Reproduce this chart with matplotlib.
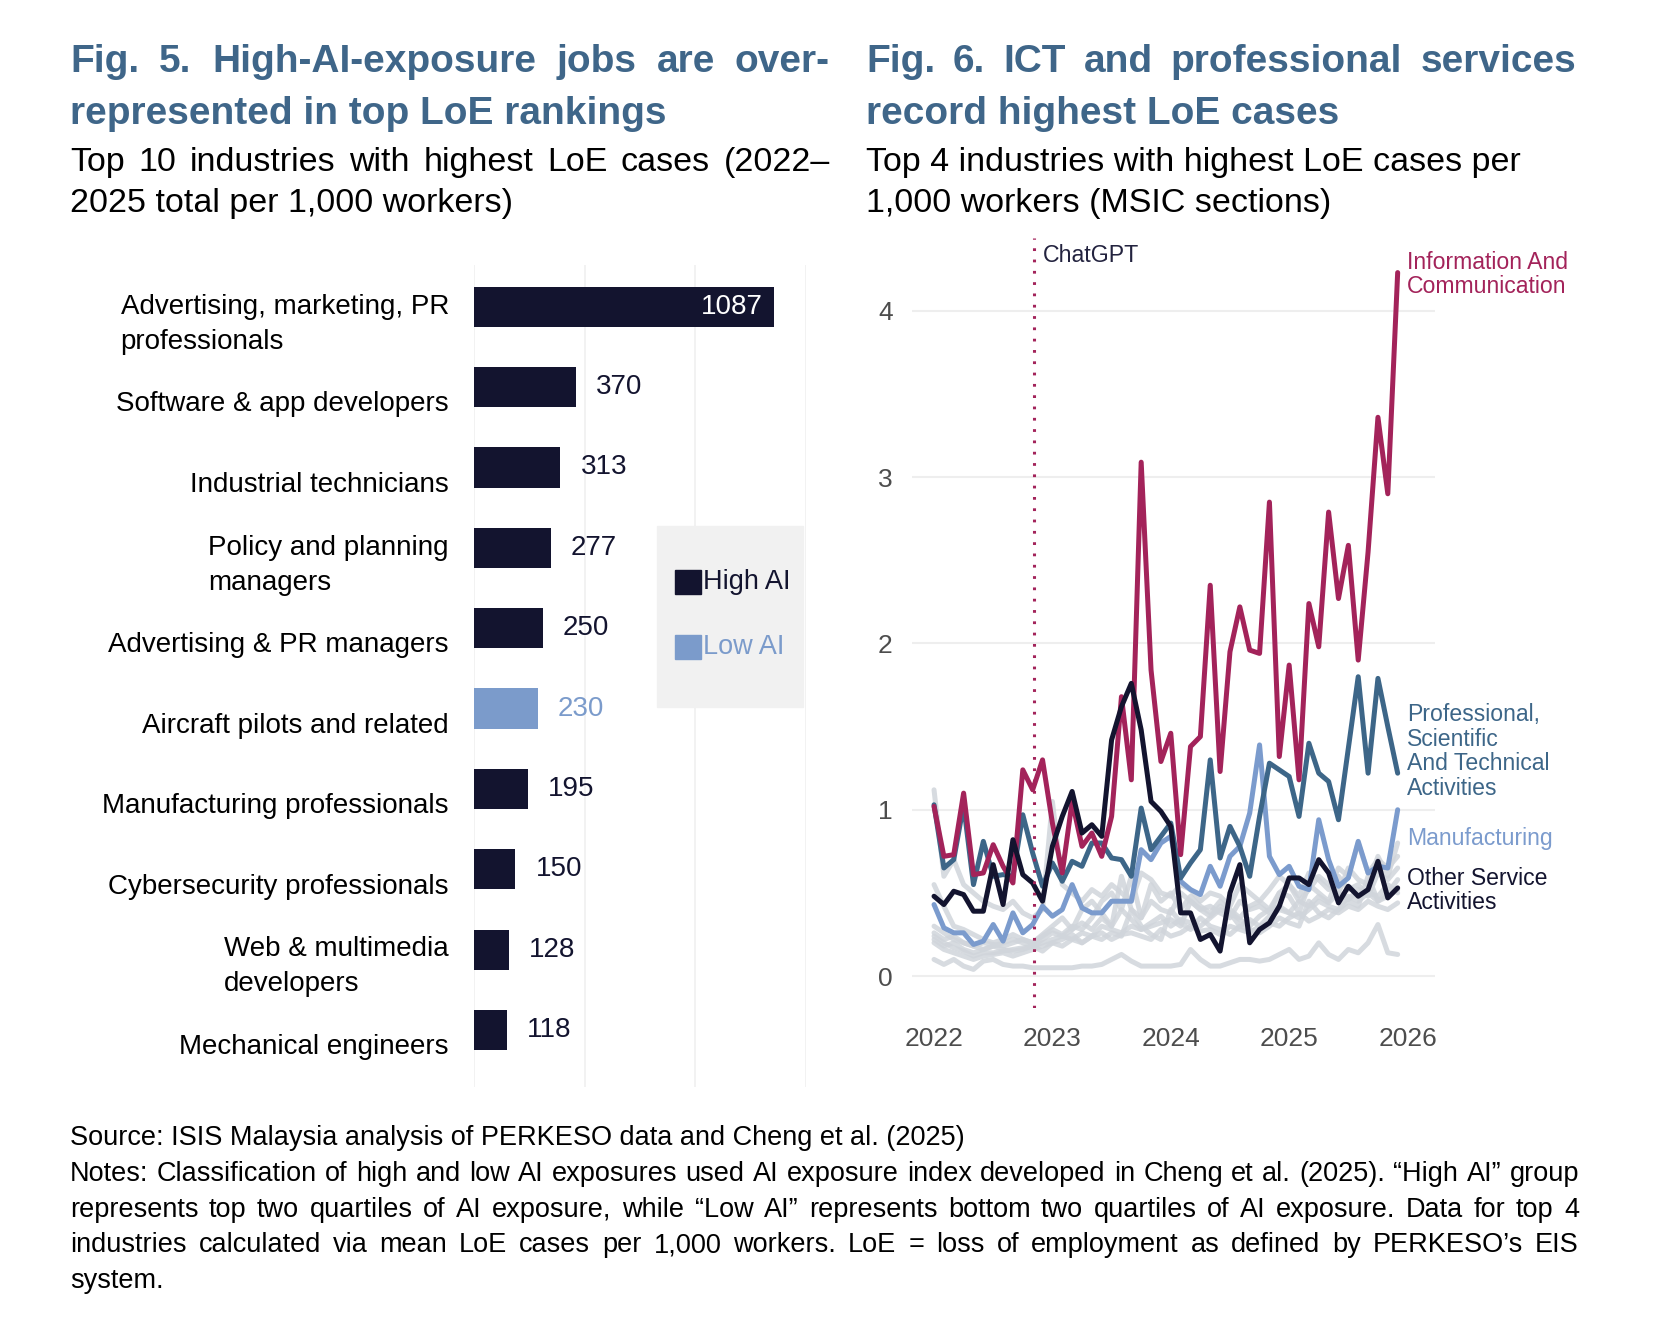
import numpy as np
import matplotlib
matplotlib.use("Agg")
import matplotlib.pyplot as plt

W, H = 1658, 1327
SANS = ["Liberation Sans", "DejaVu Sans"]
plt.rcParams["font.family"] = SANS

# ---- Fig. 5 data: top 10 occupations, LoE cases 2022-2025 per 1,000 workers
occupations = [
    "Advertising, marketing, PR\nprofessionals",
    "Software & app developers",
    "Industrial technicians",
    "Policy and planning\nmanagers",
    "Advertising & PR managers",
    "Aircraft pilots and related",
    "Manufacturing professionals",
    "Cybersecurity professionals",
    "Web & multimedia\ndevelopers",
    "Mechanical engineers",
]
loe_total = [1087, 370, 313, 277, 250, 230, 195, 150, 128, 118]
ai_group = ["High", "High", "High", "High", "High", "Low", "High", "High", "High", "High"]

# ---- Fig. 6 data: monthly LoE cases per 1,000 workers, Jan 2022 - Dec 2025
months = 2022 + np.arange(48) / 12
ict = [1.02, 0.72, 0.73, 1.10, 0.61, 0.62, 0.79, 0.66, 0.56, 1.24, 1.12, 1.30,
       0.92, 0.62, 1.05, 0.78, 0.86, 0.72, 0.96, 1.68, 1.18, 3.09, 1.84, 1.29,
       1.46, 0.73, 1.38, 1.44, 2.35, 1.23, 1.95, 2.22, 1.96, 1.94, 2.85, 1.32,
       1.87, 1.18, 2.24, 1.98, 2.79, 2.27, 2.59, 1.90, 2.55, 3.36, 2.90, 4.23]
professional = [1.03, 0.65, 0.70, 1.03, 0.55, 0.81, 0.60, 0.61, 0.60, 0.97, 0.74, 0.54,
                0.68, 0.57, 0.69, 0.66, 0.80, 0.80, 0.71, 0.70, 0.60, 1.01, 0.76, 0.84,
                0.92, 0.59, 0.68, 0.76, 1.30, 0.71, 0.90, 0.78, 0.60, 0.96, 1.28, 1.24,
                1.20, 0.96, 1.40, 1.22, 1.17, 0.94, 1.37, 1.80, 1.22, 1.79, 1.50, 1.22]
manufacturing = [0.43, 0.29, 0.26, 0.26, 0.19, 0.21, 0.31, 0.21, 0.38, 0.26, 0.31, 0.42,
                 0.36, 0.40, 0.55, 0.41, 0.38, 0.38, 0.45, 0.45, 0.45, 0.76, 0.70, 0.80,
                 0.84, 0.57, 0.52, 0.49, 0.66, 0.54, 0.72, 0.78, 0.98, 1.39, 0.72, 0.61,
                 0.66, 0.54, 0.52, 0.94, 0.70, 0.54, 0.59, 0.81, 0.62, 0.66, 0.65, 1.00]
other_services = [0.48, 0.43, 0.51, 0.49, 0.39, 0.39, 0.67, 0.43, 0.82, 0.61, 0.56, 0.45,
                  0.78, 0.96, 1.11, 0.86, 0.91, 0.84, 1.42, 1.62, 1.76, 1.48, 1.05, 0.99,
                  0.90, 0.38, 0.38, 0.22, 0.25, 0.15, 0.50, 0.67, 0.20, 0.28, 0.32, 0.42,
                  0.59, 0.59, 0.55, 0.70, 0.62, 0.44, 0.54, 0.48, 0.52, 0.69, 0.47, 0.53]
# remaining MSIC sections (background)
other_sections = [
    [0.10, 0.07, 0.10, 0.06, 0.04, 0.09, 0.10, 0.07, 0.06, 0.06, 0.05, 0.05,
     0.05, 0.05, 0.05, 0.06, 0.06, 0.07, 0.10, 0.13, 0.09, 0.06, 0.06, 0.06,
     0.06, 0.07, 0.16, 0.10, 0.06, 0.06, 0.08, 0.10, 0.10, 0.09, 0.10, 0.13,
     0.16, 0.10, 0.12, 0.20, 0.13, 0.10, 0.16, 0.14, 0.20, 0.31, 0.14, 0.13],
    [0.24, 0.20, 0.17, 0.15, 0.12, 0.14, 0.14, 0.15, 0.16, 0.17, 0.18, 0.15,
     0.20, 0.22, 0.25, 0.20, 0.24, 0.26, 0.22, 0.25, 0.26, 0.24, 0.22, 0.28,
     0.24, 0.26, 0.30, 0.27, 0.28, 0.25, 0.30, 0.28, 0.26, 0.30, 0.32, 0.30,
     0.35, 0.38, 0.33, 0.36, 0.40, 0.38, 0.42, 0.40, 0.45, 0.42, 0.40, 0.44],
    [0.22, 0.18, 0.20, 0.16, 0.14, 0.16, 0.18, 0.20, 0.22, 0.20, 0.18, 0.22,
     0.26, 0.24, 0.28, 0.32, 0.28, 0.35, 0.30, 0.40, 0.34, 0.28, 0.30, 0.32,
     0.34, 0.30, 0.45, 0.40, 0.36, 0.42, 0.38, 0.30, 0.34, 0.30, 0.36, 0.40,
     0.38, 0.45, 0.42, 0.48, 0.44, 0.50, 0.46, 0.52, 0.50, 0.48, 0.55, 0.50],
    [0.55, 0.42, 0.30, 0.28, 0.25, 0.22, 0.20, 0.22, 0.25, 0.22, 0.20, 0.25,
     0.30, 0.35, 0.28, 0.40, 0.45, 0.38, 0.30, 0.60, 0.40, 0.35, 0.55, 0.45,
     0.50, 0.40, 0.48, 0.42, 0.38, 0.45, 0.40, 0.35, 0.42, 0.45, 0.40, 0.50,
     0.48, 0.38, 0.55, 0.50, 0.45, 0.60, 0.52, 0.55, 0.48, 0.62, 0.58, 0.65],
    [1.12, 0.60, 0.70, 0.55, 0.50, 0.45, 0.42, 0.40, 0.45, 0.38, 0.35, 0.40,
     1.05, 0.55, 0.50, 0.45, 0.52, 0.48, 0.55, 0.50, 0.45, 0.62, 0.58, 0.50,
     0.48, 0.55, 0.52, 0.45, 0.50, 0.48, 0.42, 0.55, 0.50, 0.45, 0.52, 0.60,
     0.55, 0.48, 0.62, 0.58, 0.52, 0.65, 0.60, 0.80, 0.62, 0.70, 0.65, 0.72],
    [0.26, 0.22, 0.24, 0.20, 0.18, 0.16, 0.18, 0.16, 0.15, 0.16, 0.18, 0.20,
     0.22, 0.24, 0.22, 0.26, 0.24, 0.30, 0.28, 0.26, 0.30, 0.28, 0.32, 0.36,
     0.30, 0.34, 0.32, 0.30, 0.35, 0.40, 0.38, 0.34, 0.30, 0.36, 0.40, 0.42,
     0.38, 0.35, 0.40, 0.45, 0.42, 0.40, 0.48, 0.45, 0.50, 0.45, 0.48, 0.52],
    [0.20, 0.16, 0.14, 0.12, 0.10, 0.12, 0.13, 0.14, 0.12, 0.14, 0.16, 0.18,
     0.20, 0.18, 0.22, 0.20, 0.24, 0.22, 0.26, 0.24, 0.40, 0.30, 0.25, 0.22,
     0.40, 0.32, 0.28, 0.35, 0.30, 0.28, 0.25, 0.30, 0.28, 0.26, 0.30, 0.35,
     0.32, 0.30, 0.45, 0.38, 0.35, 0.40, 0.45, 0.42, 0.60, 0.45, 0.50, 0.58],
    [0.30, 0.26, 0.22, 0.20, 0.18, 0.20, 0.19, 0.18, 0.20, 0.22, 0.20, 0.24,
     0.28, 0.25, 0.30, 0.28, 0.35, 0.45, 0.50, 0.40, 0.60, 0.35, 0.45, 0.40,
     0.38, 0.50, 0.45, 0.40, 0.42, 0.38, 0.35, 0.45, 0.40, 0.42, 0.38, 0.50,
     0.55, 0.45, 0.52, 0.60, 0.55, 0.50, 0.65, 0.58, 0.55, 0.72, 0.60, 0.80],
]
chatgpt_release = 2022 + 10.1 / 12

NAVY = "#13142f"
LOWAI = "#7b9bcb"
TITLE = "#3f6689"
ICT_C = "#a3235a"
PROF_C = "#3d6688"
MANU_C = "#7b9bcd"
GREY = "#d0d5db"


def fx(px):
    return px / W


def fy(py):
    return 1 - py / H


fig = plt.figure(figsize=(W / 100, H / 100), dpi=100)
renderer = fig.canvas.get_renderer()


def justified(text, x0, x1, y, **kw):
    words = text.split(" ")
    items = [fig.text(0, fy(y), w, va="baseline", **kw) for w in words]
    widths = [t.get_window_extent(renderer).width for t in items]
    gap = (x1 - x0 - sum(widths)) / (len(words) - 1)
    x = x0
    for t, w in zip(items, widths):
        t.set_x(fx(x))
        x += w + gap


def plain(text, x0, y, **kw):
    fig.text(fx(x0), fy(y), text, va="baseline", **kw)


# ---- headings
tkw = dict(fontsize=28, fontweight="bold", color=TITLE)
skw = dict(fontsize=24.5, color="black")
justified("Fig. 5. High-AI-exposure jobs are over-", 70, 830, 72, **tkw)
plain("represented in top LoE rankings", 70, 124.5, **tkw)
justified("Top 10 industries with highest LoE cases (2022–", 70, 830, 171, **skw)
plain("2025 total per 1,000 workers)", 70, 212, **skw)

justified("Fig. 6. ICT and professional services", 866, 1576, 72, **tkw)
plain("record highest LoE cases", 866, 124.5, **tkw)
plain("Top 4 industries with highest LoE cases per", 866, 171, **skw)
plain("1,000 workers (MSIC sections)", 866, 212, **skw)

# ---- Fig. 5 bars
ax1 = fig.add_axes([fx(474), fy(1087), fx(805.5 - 474), (1087 - 265) / H])
ypos = np.arange(len(occupations))
bar_colors = [NAVY if g == "High" else LOWAI for g in ai_group]
ax1.barh(ypos, loe_total, height=0.5, color=bar_colors, zorder=2)
ax1.set_xlim(0, 1200)
ax1.set_ylim(9.71, -0.52)
ax1.set_xticks([0, 400, 800, 1200])
ax1.grid(axis="x", color="#f0f0f0", lw=1.2, zorder=0)
ax1.tick_params(length=0, labelbottom=False, labelleft=False)
for s in ax1.spines.values():
    s.set_visible(False)
px_unit = 1200 / 331.5
for yy, lab, val, col in zip(ypos, occupations, loe_total, bar_colors):
    ax1.text(-25 * px_unit, yy + 0.215, lab, ha="right", va="center",
             multialignment="left", fontsize=20, linespacing=1.45, color="black")
    if val > 800:
        ax1.text(val - 12 * px_unit, yy, str(val), ha="right", va="center",
                 fontsize=20, color="white")
    else:
        ax1.text(val + 20 * px_unit, yy, str(val), ha="left", va="center",
                 fontsize=20, color=col)

# legend box
fig.patches.append(plt.Rectangle((fx(657), fy(707)), fx(803 - 657), (707 - 525.5) / H,
                                 transform=fig.transFigure, color="#f1f1f1", zorder=1))
for label, col, yc in [("High AI", NAVY, 582), ("Low AI", LOWAI, 647)]:
    fig.patches.append(plt.Rectangle((fx(675), fy(yc + 12)), fx(26), 24 / H,
                                     transform=fig.transFigure, color=col, zorder=2))
    fig.text(fx(703), fy(yc), label, va="center", fontsize=19.5, color=col, zorder=3)

# ---- Fig. 6 lines
ax2 = fig.add_axes([fx(912), fy(1008), fx(1435 - 912), (1008 - 238) / H])
lkw = dict(lw=3.6, solid_joinstyle="round", solid_capstyle="round")
for series in other_sections:
    ax2.plot(months, series, color=GREY, alpha=0.85, zorder=2, **lkw)
ax2.plot(months, manufacturing, color=MANU_C, zorder=3, **lkw)
ax2.plot(months, professional, color=PROF_C, zorder=4, **lkw)
ax2.plot(months, other_services, color=NAVY, zorder=5, **lkw)
ax2.plot(months, ict, color=ICT_C, zorder=4, **lkw)
ax2.axvline(chatgpt_release, color=ICT_C, lw=2.2, linestyle=(0, (0.9, 2.8)), zorder=6)
ax2.text(chatgpt_release + 0.08, 4.33, "ChatGPT", fontsize=16.7, color="#23233f", va="center")

ax2.set_xlim(2022 - 0.186, 2022 + 4.232)
ax2.set_ylim(-0.192, 4.438)
ax2.set_xticks([2022, 2023, 2024, 2025, 2026])
ax2.set_yticks([0, 1, 2, 3, 4])
ax2.grid(axis="y", color="#eeeeee", lw=1.5, zorder=0)
ax2.tick_params(length=0, labelsize=19, labelcolor="#4d4d4d")
ax2.tick_params(axis="x", pad=14)
ax2.tick_params(axis="y", pad=14)
for s in ax2.spines.values():
    s.set_visible(False)

lx = 2022 + 47.95 / 12
for text, yv, col in [("Information And\nCommunication", 4.22, ICT_C),
                      ("Professional,\nScientific\nAnd Technical\nActivities", 1.35, PROF_C),
                      ("Manufacturing", 0.83, MANU_C),
                      ("Other Service\nActivities", 0.515, NAVY)]:
    ax2.text(lx, yv, text, fontsize=16.6, color=col, va="center", ha="left",
             linespacing=1.08, clip_on=False)

# ---- footer
fkw = dict(fontsize=19.5, color="black")
plain("Source: ISIS Malaysia analysis of PERKESO data and Cheng et al. (2025)", 70, 1145, **fkw)
justified("Notes: Classification of high and low AI exposures used AI exposure index developed "
          "in Cheng et al. (2025). “High AI” group", 70, 1579, 1181, **fkw)
justified("represents top two quartiles of AI exposure, while “Low AI” represents bottom two "
          "quartiles of AI exposure. Data for top 4", 70, 1579, 1217, **fkw)
justified("industries calculated via mean LoE cases per 1,000 workers. LoE = loss of employment "
          "as defined by PERKESO’s EIS", 70, 1579, 1252, **fkw)
plain("system.", 70, 1288, **fkw)

fig.savefig("out.png", dpi=100)
